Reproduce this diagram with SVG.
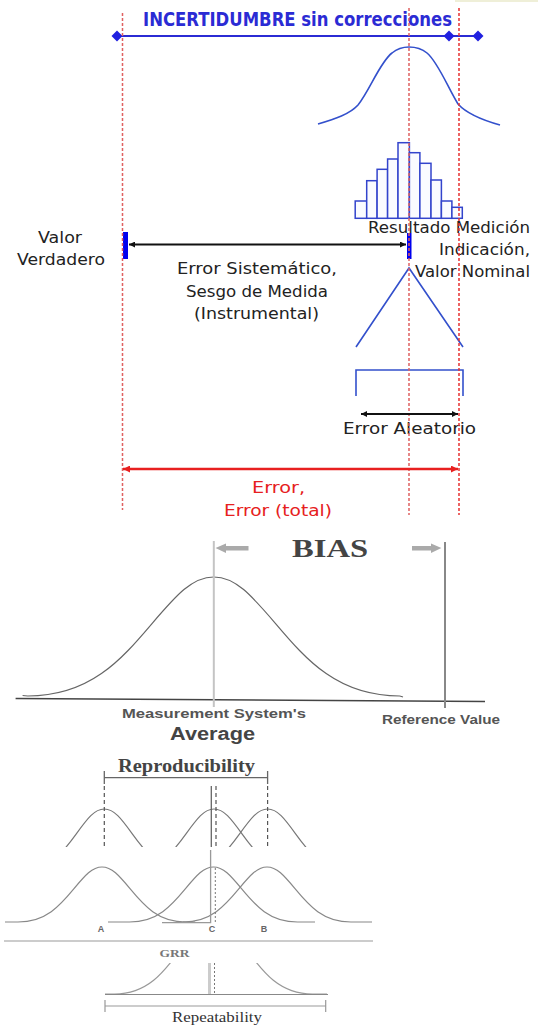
<svg xmlns="http://www.w3.org/2000/svg" width="545" height="1028" viewBox="0 0 545 1028">
<style>
.cs{font-family:"DejaVu Sans",sans-serif;font-size:16px;fill:#222}
.red{fill:#e62020}
.rdash{stroke:#e83030;stroke-width:1.5;stroke-dasharray:3 2;fill:none}
.blue{stroke:#3350cc;stroke-width:1.6;fill:none}
.bar{stroke:#3344cc;stroke-width:1.5;fill:#fafbff}
.gcur{stroke:#777;stroke-width:1.2;fill:none}
.sans{font-family:"Liberation Sans",Arial,sans-serif;font-weight:bold;fill:#555}
.serif{font-family:"Liberation Serif","Times New Roman",serif;font-weight:bold;fill:#444}
.dia{fill:#2020e0}
</style>
<defs>
<marker id="ahk" viewBox="0 0 10 10" refX="10" refY="5" markerWidth="8" markerHeight="6" markerUnits="userSpaceOnUse" orient="auto-start-reverse"><path d="M0,0 L10,5 L0,10 z" fill="#111"/></marker>
<marker id="ahr" viewBox="0 0 10 10" refX="10" refY="5" markerWidth="9" markerHeight="7" markerUnits="userSpaceOnUse" orient="auto-start-reverse"><path d="M0,0 L10,5 L0,10 z" fill="#e82020"/></marker>
<clipPath id="clipTop"><rect x="0" y="780" width="545" height="67"/></clipPath>
<clipPath id="clipGrr"><rect x="0" y="963" width="545" height="40"/></clipPath>
</defs>
<rect width="545" height="1028" fill="#fff"/>
<rect x="455" y="0" width="83" height="2" fill="#efefd8"/>

<!-- top uncertainty section -->
<g id="uncertainty-bar">
<line x1="117" y1="36" x2="478" y2="36" stroke="#2b2bd4" stroke-width="2"/>
<polygon class="dia" points="117,30.5 122.5,36 117,41.5 111.5,36"/>
<polygon class="dia" points="449,30.5 454.5,36 449,41.5 443.5,36"/>
<polygon class="dia" points="478,30.5 483.5,36 478,41.5 472.5,36"/>
<text class="cs" x="143" y="26" textLength="309" lengthAdjust="spacingAndGlyphs" style="fill:#2b2bd4;font-size:19px;font-weight:bold">INCERTIDUMBRE sin correcciones</text>
</g>
<g id="bell-top">
<path class="blue" d="M318,124 C335,119 350,114 358,105 C370,90 380,62 392,53 C398,48 403,47 409,47 C415,47 421,48 427,53 C438,62 448,88 458,104 C467,114 482,120 500,125"/>
</g>
<g id="histogram">
<rect class="bar" x="355.2" y="201" width="11.5" height="17.3"/>
<rect class="bar" x="366.7" y="180.7" width="10.4" height="37.6"/>
<rect class="bar" x="377.1" y="169.3" width="10.5" height="49"/>
<rect class="bar" x="387.6" y="159" width="10.4" height="59.3"/>
<rect class="bar" x="398" y="142.7" width="11.4" height="75.6"/>
<rect class="bar" x="409.4" y="152.7" width="10.5" height="65.6"/>
<rect class="bar" x="419.9" y="163.3" width="11.1" height="55"/>
<rect class="bar" x="431" y="180" width="10.4" height="38.3"/>
<rect class="bar" x="441.4" y="201" width="10.5" height="17.3"/>
<rect class="bar" x="451.9" y="207.3" width="10.4" height="11"/>
</g>
<g id="triangle">
<polyline class="blue" points="356,347 409,268 463,347"/>
</g>
<g id="rect-bracket">
<polyline class="blue" points="356,396 356,370 463,370 463,396"/>
</g>
<g id="valor-verdadero">
<rect x="123" y="232" width="5" height="27" fill="#0000ee"/>
<text class="cs" x="38" y="243" textLength="44" lengthAdjust="spacingAndGlyphs">Valor</text>
<text class="cs" x="17" y="265" textLength="88" lengthAdjust="spacingAndGlyphs">Verdadero</text>
</g>
<g id="resultado">
<rect x="407" y="233" width="4.5" height="26" fill="#0000ee"/>
<text class="cs" x="368" y="233" textLength="162" lengthAdjust="spacingAndGlyphs">Resultado Medición</text>
<text class="cs" x="439" y="255" textLength="91" lengthAdjust="spacingAndGlyphs">Indicación,</text>
<text class="cs" x="415" y="277" textLength="115" lengthAdjust="spacingAndGlyphs">Valor Nominal</text>
</g>
<g id="error-sistematico">
<text class="cs" x="177" y="274" textLength="160" lengthAdjust="spacingAndGlyphs">Error Sistemático,</text>
<text class="cs" x="186" y="297" textLength="142" lengthAdjust="spacingAndGlyphs">Sesgo de Medida</text>
<text class="cs" x="194" y="319" textLength="125" lengthAdjust="spacingAndGlyphs">(Instrumental)</text>
</g>
<g id="error-aleatorio">
<text class="cs" x="343" y="434" textLength="133" lengthAdjust="spacingAndGlyphs">Error Aleatorio</text>
</g>
<g id="error-total">
<text class="cs red" x="252" y="493" textLength="53" lengthAdjust="spacingAndGlyphs">Error,</text>
<text class="cs red" x="224" y="516" textLength="108" lengthAdjust="spacingAndGlyphs">Error (total)</text>
</g>
<g id="guides">
<line class="rdash" x1="122.5" y1="13" x2="122.5" y2="510" style="stroke:#e06060"/>
<line class="rdash" x1="409" y1="8" x2="409" y2="515" style="stroke:#e06060"/>
<line class="rdash" x1="459" y1="8" x2="459" y2="515"/>
</g>
<g id="connectors">
<line x1="129" y1="244.5" x2="406" y2="244.5" stroke="#111" stroke-width="2" marker-start="url(#ahk)" marker-end="url(#ahk)"/>
<line x1="361" y1="414" x2="458" y2="414" stroke="#111" stroke-width="1.8" marker-start="url(#ahk)" marker-end="url(#ahk)"/>
<line x1="123" y1="469" x2="458" y2="469" stroke="#e82020" stroke-width="2.5" marker-start="url(#ahr)" marker-end="url(#ahr)"/>
</g>

<!-- BIAS section -->
<g id="bias">
<line x1="15.6" y1="698.5" x2="485" y2="701.5" stroke="#444" stroke-width="1.5"/>
<path class="gcur" style="stroke:#666" d="M22.6,695.5 L27.8,696 C89.8,696 120.8,660.3 151.8,623.8 C176.6,594.9 192.1,577 213.8,577 C235.5,577 251,594.9 275.8,623.8 C306.8,660.3 337.8,696 399.8,696 L403,697"/>
<line x1="213.8" y1="541" x2="213.8" y2="707" stroke="#c4c4c4" stroke-width="2"/>
<line x1="445" y1="542" x2="445" y2="708" stroke="#888" stroke-width="2"/>
<polygon points="215.5,548 226,543.5 226,546 248.5,546 248.5,550.5 226,550.5 226,553" fill="#aaa"/>
<polygon points="441.4,548 431,543.5 431,546 412,546 412,550.5 431,550.5 431,553" fill="#aaa"/>
<text class="serif" x="292" y="557" font-size="26" textLength="76" lengthAdjust="spacingAndGlyphs">BIAS</text>
<text class="sans" x="122" y="718" font-size="12.6" textLength="184" lengthAdjust="spacingAndGlyphs">Measurement System's</text>
<text class="sans" x="170" y="740" font-size="17.5" textLength="85" lengthAdjust="spacingAndGlyphs" style="fill:#444">Average</text>
<text class="sans" x="382" y="724" font-size="12" textLength="118" lengthAdjust="spacingAndGlyphs">Reference Value</text>
</g>

<!-- Reproducibility section -->
<g id="reproducibility">
<text class="serif" x="118" y="772" font-size="18" textLength="137" lengthAdjust="spacingAndGlyphs">Reproducibility</text>
<polyline points="104.3,771 104.3,784 104.3,777.7 267.6,777.7 267.6,771 267.6,784" fill="none" stroke="#666" stroke-width="1.3"/>
<g clip-path="url(#clipTop)">
<path class="gcur" d="M20.3,872 C48.3,872 62.3,853.1 76.3,833.8 C87.5,818.4 94.5,809 104.3,809 C114.1,809 121.1,818.4 132.3,833.8 C146.3,853.1 160.3,872 188.3,872"/>
<path class="gcur" d="M130,872 C158,872 172,853.1 186,833.8 C197.2,818.4 204.2,809 214,809 C223.8,809 230.8,818.4 242,833.8 C256,853.1 270,872 298,872"/>
<path class="gcur" d="M183.6,872 C211.6,872 225.6,853.1 239.6,833.8 C250.8,818.4 257.8,809 267.6,809 C277.4,809 284.4,818.4 295.6,833.8 C309.6,853.1 323.6,872 351.6,872"/>
</g>
<line x1="104.3" y1="786" x2="104.3" y2="847" stroke="#555" stroke-width="1.2" stroke-dasharray="4 3"/>
<line x1="216" y1="786" x2="216" y2="847" stroke="#555" stroke-width="1.2" stroke-dasharray="4 3"/>
<line x1="267.6" y1="786" x2="267.6" y2="847" stroke="#555" stroke-width="1.2" stroke-dasharray="4 3"/>
<line x1="211.3" y1="786" x2="211.3" y2="847" stroke="#666" stroke-width="1.3"/>
</g>
<g id="parts-ABC">
<path class="gcur" style="stroke:#888" d="M5,922 L18,922 C46,922 60,905.5 74,888.6 C85.2,875.3 92.2,867 102,867 C111.8,867 118.8,875.3 130,888.6 C144,905.5 158,922 186,922 L195,922"/>
<path class="gcur" style="stroke:#888" d="M108,922 L129.5,922 C157.5,922 171.5,905.5 185.5,888.6 C196.7,875.3 203.7,867 213.5,867 C223.3,867 230.3,875.3 241.5,888.6 C255.5,905.5 269.5,922 297.5,922 L315,922"/>
<path class="gcur" style="stroke:#888" d="M183,922 C211,922 225,905.5 239,888.6 C250.2,875.3 257.2,867 267,867 C276.8,867 283.8,875.3 295,888.6 C309,905.5 323,922 351,922 L372,922"/>
<polyline points="162,922.7 210.6,922.7 210.6,850" fill="none" stroke="#999" stroke-width="1.3"/>
<line x1="215.3" y1="868" x2="215.3" y2="922" stroke="#777" stroke-width="1" stroke-dasharray="2 2"/>
<text class="sans" x="101" y="931.5" font-size="9" text-anchor="middle" style="fill:#666">A</text>
<text class="sans" x="212" y="931.5" font-size="9" text-anchor="middle" style="fill:#666">C</text>
<text class="sans" x="264" y="931.5" font-size="9" text-anchor="middle" style="fill:#666">B</text>
<line x1="4" y1="941" x2="373" y2="941" stroke="#bbb" stroke-width="1.5"/>
</g>
<g id="grr">
<text class="serif" x="159.5" y="956.5" font-size="10.5" textLength="30" lengthAdjust="spacingAndGlyphs" style="fill:#777">GRR</text>
<g clip-path="url(#clipGrr)">
<path class="gcur" style="stroke:#999" d="M105,994 L114.5,994 C147.5,994 164,972.1 180.5,949.7 C193.7,932 202,921 213.5,921 C225,921 233.3,932 246.5,949.7 C263,972.1 279.5,994 312.5,994 L327,994"/>
</g>
<line x1="105" y1="994.5" x2="328" y2="994.5" stroke="#888" stroke-width="1.2"/>
<line x1="209.5" y1="963" x2="209.5" y2="994" stroke="#ccc" stroke-width="3"/>
<line x1="214.5" y1="963" x2="214.5" y2="994" stroke="#777" stroke-width="1" stroke-dasharray="2 2"/>
<polyline points="105,1000 105,1012 105,1006 325.7,1006 325.7,1000 325.7,1012" fill="none" stroke="#999" stroke-width="1.2"/>
<text class="serif" x="172" y="1021.5" font-size="15" textLength="90" lengthAdjust="spacingAndGlyphs" style="font-weight:normal;fill:#333">Repeatability</text>
</g>
</svg>
